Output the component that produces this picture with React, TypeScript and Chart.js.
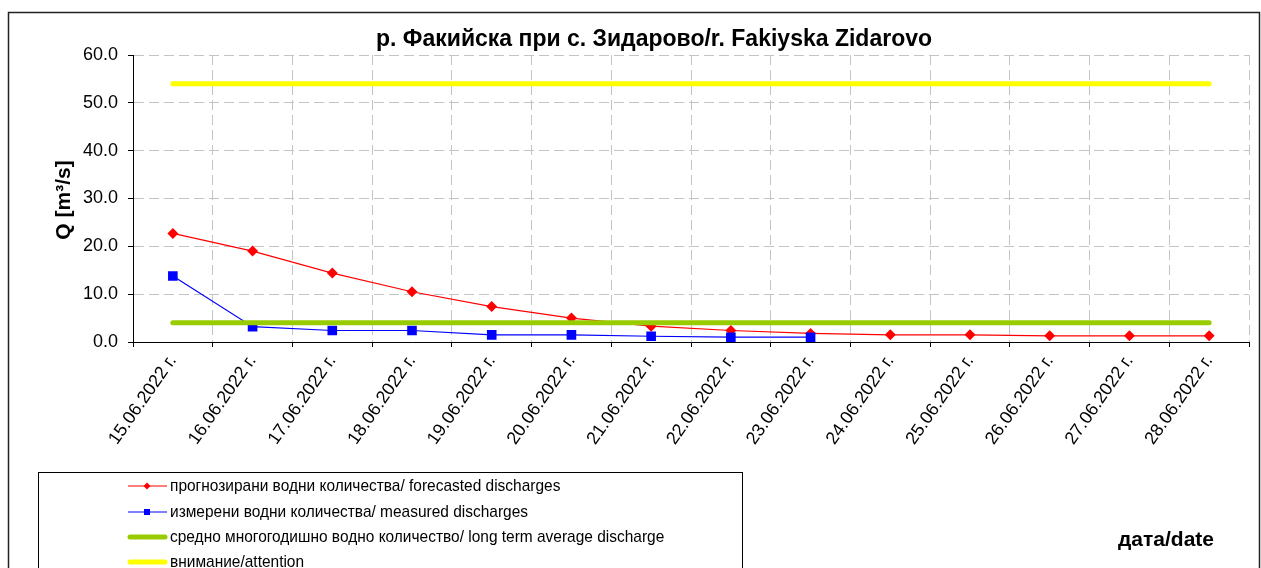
import React, { useEffect, useRef } from 'react';
import { Chart, registerables } from 'chart.js';

Chart.register(...registerables);

const chartTitle = 'р. Факийска при с. Зидарово/r. Fakiyska Zidarovo';
const yAxisTitle = 'Q [m³/s]';
const xAxisTitle = 'дата/date';

const categories = [
  '15.06.2022 г.', '16.06.2022 г.', '17.06.2022 г.', '18.06.2022 г.', '19.06.2022 г.',
  '20.06.2022 г.', '21.06.2022 г.', '22.06.2022 г.', '23.06.2022 г.', '24.06.2022 г.',
  '25.06.2022 г.', '26.06.2022 г.', '27.06.2022 г.', '28.06.2022 г.',
];

const forecasted = [22.7, 19.0, 14.4, 10.5, 7.4, 5.0, 3.3, 2.4, 1.8, 1.5, 1.5, 1.3, 1.3, 1.3];
const measured = [13.8, 3.2, 2.4, 2.4, 1.5, 1.5, 1.2, 1.0, 1.0, null, null, null, null, null];
const longTermAverage = [4.0, 4.0, 4.0, 4.0, 4.0, 4.0, 4.0, 4.0, 4.0, 4.0, 4.0, 4.0, 4.0, 4.0];
const attention = [54.0, 54.0, 54.0, 54.0, 54.0, 54.0, 54.0, 54.0, 54.0, 54.0, 54.0, 54.0, 54.0, 54.0];

const seriesLabels = [
  'прогнозирани водни количества/ forecasted discharges',
  'измерени водни количества/ measured discharges',
  'средно многогодишно водно количество/ long term average discharge',
  'внимание/attention',
];

const yTicks = { min: 0, max: 60, step: 10 };

const FONT = "'Liberation Sans', Arial, sans-serif";

const decorPlugin = {
  id: 'decor',
  afterDraw(chart: any) {
    const ctx: CanvasRenderingContext2D = chart.ctx;
    ctx.save();
    // outer frame
    ctx.strokeStyle = '#222';
    ctx.lineWidth = 1.5;
    ctx.beginPath();
    ctx.moveTo(8.5, 600);
    ctx.lineTo(8.5, 12.5);
    ctx.lineTo(1259.5, 12.5);
    ctx.lineTo(1259.5, 600);
    ctx.stroke();

    // title
    ctx.fillStyle = '#000';
    ctx.font = `bold 23px ${FONT}`;
    ctx.textAlign = 'center';
    ctx.textBaseline = 'middle';
    ctx.fillText(chartTitle, 654, 40);

    // y title
    ctx.save();
    ctx.translate(64, 200);
    ctx.rotate(-Math.PI / 2);
    ctx.font = `bold 21px ${FONT}`;
    ctx.fillText(yAxisTitle, 0, 0);
    ctx.restore();

    // x title
    ctx.font = `bold 21px ${FONT}`;
    ctx.fillText(xAxisTitle, 1166, 540);

    // legend
    const lx0 = 38, ly0 = 472, lx1 = 742;
    ctx.strokeStyle = '#000';
    ctx.lineWidth = 1;
    ctx.strokeRect(lx0 + 0.5, ly0 + 0.5, lx1 - lx0, 200);
    const rowY = [486, 512, 537, 562];
    chart.data.datasets.forEach((ds: any, i: number) => {
      const y = rowY[i];
      ctx.save();
      ctx.strokeStyle = ds.borderColor;
      ctx.lineWidth = ds.borderWidth;
      ctx.lineCap = ds.borderWidth > 2 ? 'round' : 'butt';
      ctx.beginPath();
      ctx.moveTo(ds.borderWidth > 2 ? 130 : 128, y);
      ctx.lineTo(ds.borderWidth > 2 ? 165 : 167, y);
      ctx.stroke();
      if (ds.pointRadius > 0) {
        ctx.fillStyle = ds.pointBackgroundColor;
        if (ds.pointStyle === 'rectRot') {
          ctx.beginPath();
          ctx.moveTo(147, y - 3.5);
          ctx.lineTo(150.5, y);
          ctx.lineTo(147, y + 3.5);
          ctx.lineTo(143.5, y);
          ctx.closePath();
          ctx.fill();
        } else {
          ctx.fillRect(144, y - 3, 6, 6);
        }
      }
      ctx.restore();
      ctx.save();
      ctx.fillStyle = '#000';
      ctx.font = `17px ${FONT}`;
      ctx.textAlign = 'left';
      ctx.textBaseline = 'middle';
      ctx.translate(170, y);
      ctx.scale(0.91, 1);
      ctx.fillText(ds.label, 0, 0);
      ctx.restore();
    });
    ctx.restore();
  },
};

export default function App() {
  const ref = useRef<HTMLCanvasElement>(null);
  useEffect(() => {
    const canvas = ref.current!;
    const chart = new Chart(canvas, {
      type: 'line',
      data: {
        labels: categories,
        datasets: [
          {
            label: seriesLabels[0],
            data: forecasted,
            borderColor: '#ff0000',
            backgroundColor: '#ff0000',
            pointBackgroundColor: '#ff0000',
            pointBorderColor: '#ff0000',
            borderWidth: 1.2,
            pointStyle: 'rectRot',
            pointRadius: 5.5,
            pointBorderWidth: 0,
            order: 3,
          },
          {
            label: seriesLabels[1],
            data: measured,
            borderColor: '#0000ff',
            backgroundColor: '#0000ff',
            pointBackgroundColor: '#0000ff',
            pointBorderColor: '#0000ff',
            borderWidth: 1.2,
            pointStyle: 'rect',
            pointRadius: 6.8,
            pointBorderWidth: 0,
            spanGaps: false,
            order: 2,
          },
          {
            label: seriesLabels[2],
            data: longTermAverage,
            borderColor: '#99cc00',
            backgroundColor: '#99cc00',
            borderWidth: 5,
            borderCapStyle: 'round',
            pointRadius: 0,
            order: 0,
          },
          {
            label: seriesLabels[3],
            data: attention,
            borderColor: '#ffff00',
            backgroundColor: '#ffff00',
            borderWidth: 5,
            borderCapStyle: 'round',
            pointRadius: 0,
            order: 1,
          },
        ] as any,
      },
      options: {
        responsive: false,
        animation: false,
        devicePixelRatio: 1,
        layout: { padding: { top: 55, right: 12, left: 0, bottom: 0 } },
        plugins: {
          legend: { display: false },
          title: { display: false },
          tooltip: { enabled: false },
        },
        elements: { line: { tension: 0 } },
        scales: {
          x: {
            type: 'category',
            offset: true,
            grid: {
              offset: true,
              color: '#c4c4c4',
              lineWidth: 1,
              tickLength: 5,
              tickColor: '#000',
            },
            border: { color: '#000', width: 1, dash: [10, 5] },
            ticks: {
              autoSkip: false,
              minRotation: 55,
              maxRotation: 55,
              padding: 4,
              color: '#000',
              font: { family: FONT, size: 18 },
            },
            afterFit: (s: any) => { s.height = 226; },
          },
          y: {
            min: yTicks.min,
            max: yTicks.max,
            grid: {
              color: '#c4c4c4',
              lineWidth: 1,
              tickLength: 5,
              tickColor: '#000',
            },
            border: { color: '#000', width: 1, dash: [10, 5] },
            ticks: {
              stepSize: yTicks.step,
              padding: 10,
              color: '#000',
              font: { family: FONT, size: 18 },
              callback: (v: any) => Number(v).toFixed(1),
            },
            afterFit: (s: any) => { s.width = 133; },
          },
        },
      } as any,
      plugins: [decorPlugin],
    });
    return () => chart.destroy();
  }, []);
  return (
    <div style={{ position: 'absolute', left: 0, top: 0, width: 1261, height: 568, overflow: 'hidden', background: '#fff' }}>
      <canvas ref={ref} width={1261} height={568} style={{ display: 'block' }} />
    </div>
  );
}
